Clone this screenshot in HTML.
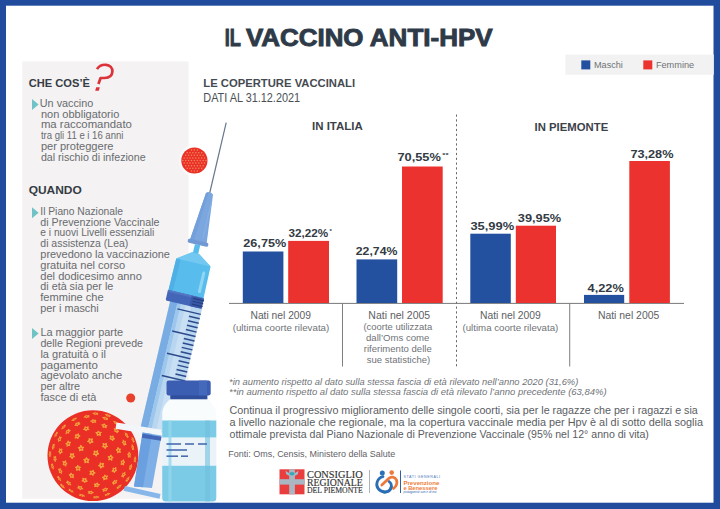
<!DOCTYPE html><html><head><meta charset="utf-8"><style>html,body{margin:0;padding:0;background:#fff;width:720px;height:509px;overflow:hidden}svg{display:block;font-family:"Liberation Sans",sans-serif}</style></head><body>
<svg width="720" height="509" viewBox="0 0 720 509">
<rect x="0" y="0" width="720" height="509" fill="#214c9e"/>
<rect x="6" y="5.7" width="707.5" height="497" fill="#ffffff"/>
<rect x="22.3" y="61.5" width="166.2" height="437.3" fill="#f4f2f2"/>
<rect x="565.3" y="54.6" width="148.5" height="20.2" fill="#f3f2f2"/>
<rect x="581.3" y="60.4" width="9" height="9" fill="#2450a0"/>
<rect x="643.3" y="60.4" width="9" height="9" fill="#ec322e"/>
<circle cx="130.7" cy="398" r="4.5" fill="#e8402a"/>
<circle cx="194.4" cy="160.5" r="15.5" fill="#ffffff" opacity="0.55"/>
<circle cx="194.4" cy="160.5" r="13.1" fill="#ea3126"/>
<circle cx="191.5" cy="150.1" r="0.75" fill="#f58a66"/>
<circle cx="194.4" cy="150.1" r="0.75" fill="#f58a66"/>
<circle cx="197.3" cy="150.1" r="0.75" fill="#f58a66"/>
<circle cx="187.2" cy="152.7" r="0.75" fill="#f58a66"/>
<circle cx="190.0" cy="152.7" r="0.75" fill="#f58a66"/>
<circle cx="192.9" cy="152.7" r="0.75" fill="#f58a66"/>
<circle cx="195.8" cy="152.7" r="0.75" fill="#f58a66"/>
<circle cx="198.8" cy="152.7" r="0.75" fill="#f58a66"/>
<circle cx="201.7" cy="152.7" r="0.75" fill="#f58a66"/>
<circle cx="185.7" cy="155.3" r="0.75" fill="#f58a66"/>
<circle cx="188.6" cy="155.3" r="0.75" fill="#f58a66"/>
<circle cx="191.5" cy="155.3" r="0.75" fill="#f58a66"/>
<circle cx="194.4" cy="155.3" r="0.75" fill="#f58a66"/>
<circle cx="197.3" cy="155.3" r="0.75" fill="#f58a66"/>
<circle cx="200.2" cy="155.3" r="0.75" fill="#f58a66"/>
<circle cx="203.1" cy="155.3" r="0.75" fill="#f58a66"/>
<circle cx="184.2" cy="157.9" r="0.75" fill="#f58a66"/>
<circle cx="187.2" cy="157.9" r="0.75" fill="#f58a66"/>
<circle cx="190.0" cy="157.9" r="0.75" fill="#f58a66"/>
<circle cx="192.9" cy="157.9" r="0.75" fill="#f58a66"/>
<circle cx="195.8" cy="157.9" r="0.75" fill="#f58a66"/>
<circle cx="198.8" cy="157.9" r="0.75" fill="#f58a66"/>
<circle cx="201.7" cy="157.9" r="0.75" fill="#f58a66"/>
<circle cx="204.5" cy="157.9" r="0.75" fill="#f58a66"/>
<circle cx="182.8" cy="160.5" r="0.75" fill="#f58a66"/>
<circle cx="185.7" cy="160.5" r="0.75" fill="#f58a66"/>
<circle cx="188.6" cy="160.5" r="0.75" fill="#f58a66"/>
<circle cx="191.5" cy="160.5" r="0.75" fill="#f58a66"/>
<circle cx="194.4" cy="160.5" r="0.75" fill="#f58a66"/>
<circle cx="197.3" cy="160.5" r="0.75" fill="#f58a66"/>
<circle cx="200.2" cy="160.5" r="0.75" fill="#f58a66"/>
<circle cx="203.1" cy="160.5" r="0.75" fill="#f58a66"/>
<circle cx="206.0" cy="160.5" r="0.75" fill="#f58a66"/>
<circle cx="184.2" cy="163.1" r="0.75" fill="#f58a66"/>
<circle cx="187.2" cy="163.1" r="0.75" fill="#f58a66"/>
<circle cx="190.0" cy="163.1" r="0.75" fill="#f58a66"/>
<circle cx="192.9" cy="163.1" r="0.75" fill="#f58a66"/>
<circle cx="195.8" cy="163.1" r="0.75" fill="#f58a66"/>
<circle cx="198.8" cy="163.1" r="0.75" fill="#f58a66"/>
<circle cx="201.7" cy="163.1" r="0.75" fill="#f58a66"/>
<circle cx="204.5" cy="163.1" r="0.75" fill="#f58a66"/>
<circle cx="185.7" cy="165.7" r="0.75" fill="#f58a66"/>
<circle cx="188.6" cy="165.7" r="0.75" fill="#f58a66"/>
<circle cx="191.5" cy="165.7" r="0.75" fill="#f58a66"/>
<circle cx="194.4" cy="165.7" r="0.75" fill="#f58a66"/>
<circle cx="197.3" cy="165.7" r="0.75" fill="#f58a66"/>
<circle cx="200.2" cy="165.7" r="0.75" fill="#f58a66"/>
<circle cx="203.1" cy="165.7" r="0.75" fill="#f58a66"/>
<circle cx="187.2" cy="168.3" r="0.75" fill="#f58a66"/>
<circle cx="190.0" cy="168.3" r="0.75" fill="#f58a66"/>
<circle cx="192.9" cy="168.3" r="0.75" fill="#f58a66"/>
<circle cx="195.8" cy="168.3" r="0.75" fill="#f58a66"/>
<circle cx="198.8" cy="168.3" r="0.75" fill="#f58a66"/>
<circle cx="201.7" cy="168.3" r="0.75" fill="#f58a66"/>
<circle cx="191.5" cy="170.9" r="0.75" fill="#f58a66"/>
<circle cx="194.4" cy="170.9" r="0.75" fill="#f58a66"/>
<circle cx="197.3" cy="170.9" r="0.75" fill="#f58a66"/>
<circle cx="92.9" cy="455.7" r="45.4" fill="#ea2f27"/>
<g transform="translate(96.2,497.2) rotate(85) scale(0.35,1.0)"><path d="M0,-2.9 L1.05,-1.05 L2.85,-0.85 L1.6,0.75 L1.85,2.6 L0,1.75 L-1.85,2.6 L-1.6,0.75 L-2.85,-0.85 L-1.05,-1.05 Z" fill="#f2a63e" stroke="#f2a63e" stroke-width="0.9" stroke-linejoin="round"/><circle r="0.8" fill="#e9362a"/></g>
<g transform="translate(82.0,495.4) rotate(105) scale(0.35,1.0)"><path d="M0,-2.9 L1.05,-1.05 L2.85,-0.85 L1.6,0.75 L1.85,2.6 L0,1.75 L-1.85,2.6 L-1.6,0.75 L-2.85,-0.85 L-1.05,-1.05 Z" fill="#f2a63e" stroke="#f2a63e" stroke-width="0.9" stroke-linejoin="round"/><circle r="0.8" fill="#e9362a"/></g>
<g transform="translate(107.6,494.3) rotate(69) scale(0.35,1.0)"><path d="M0,-2.9 L1.05,-1.05 L2.85,-0.85 L1.6,0.75 L1.85,2.6 L0,1.75 L-1.85,2.6 L-1.6,0.75 L-2.85,-0.85 L-1.05,-1.05 Z" fill="#f2a63e" stroke="#f2a63e" stroke-width="0.9" stroke-linejoin="round"/><circle r="0.8" fill="#e9362a"/></g>
<g transform="translate(90.7,492.5) rotate(93) scale(0.53,1.0)"><path d="M0,-2.9 L1.05,-1.05 L2.85,-0.85 L1.6,0.75 L1.85,2.6 L0,1.75 L-1.85,2.6 L-1.6,0.75 L-2.85,-0.85 L-1.05,-1.05 Z" fill="#f2a63e" stroke="#f2a63e" stroke-width="0.9" stroke-linejoin="round"/><circle r="0.8" fill="#e9362a"/></g>
<g transform="translate(71.1,490.8) rotate(122) scale(0.35,1.0)"><path d="M0,-2.9 L1.05,-1.05 L2.85,-0.85 L1.6,0.75 L1.85,2.6 L0,1.75 L-1.85,2.6 L-1.6,0.75 L-2.85,-0.85 L-1.05,-1.05 Z" fill="#f2a63e" stroke="#f2a63e" stroke-width="0.9" stroke-linejoin="round"/><circle r="0.8" fill="#e9362a"/></g>
<g transform="translate(105.2,489.6) rotate(70) scale(0.56,1.0)"><path d="M0,-2.9 L1.05,-1.05 L2.85,-0.85 L1.6,0.75 L1.85,2.6 L0,1.75 L-1.85,2.6 L-1.6,0.75 L-2.85,-0.85 L-1.05,-1.05 Z" fill="#f2a63e" stroke="#f2a63e" stroke-width="0.9" stroke-linejoin="round"/><circle r="0.8" fill="#e9362a"/></g>
<g transform="translate(80.3,487.9) rotate(111) scale(0.61,1.0)"><path d="M0,-2.9 L1.05,-1.05 L2.85,-0.85 L1.6,0.75 L1.85,2.6 L0,1.75 L-1.85,2.6 L-1.6,0.75 L-2.85,-0.85 L-1.05,-1.05 Z" fill="#f2a63e" stroke="#f2a63e" stroke-width="0.9" stroke-linejoin="round"/><circle r="0.8" fill="#e9362a"/></g>
<g transform="translate(119.1,486.7) rotate(50) scale(0.36,1.0)"><path d="M0,-2.9 L1.05,-1.05 L2.85,-0.85 L1.6,0.75 L1.85,2.6 L0,1.75 L-1.85,2.6 L-1.6,0.75 L-2.85,-0.85 L-1.05,-1.05 Z" fill="#f2a63e" stroke="#f2a63e" stroke-width="0.9" stroke-linejoin="round"/><circle r="0.8" fill="#e9362a"/></g>
<g transform="translate(62.5,486.1) rotate(135) scale(0.35,1.0)"><path d="M0,-2.9 L1.05,-1.05 L2.85,-0.85 L1.6,0.75 L1.85,2.6 L0,1.75 L-1.85,2.6 L-1.6,0.75 L-2.85,-0.85 L-1.05,-1.05 Z" fill="#f2a63e" stroke="#f2a63e" stroke-width="0.9" stroke-linejoin="round"/><circle r="0.8" fill="#e9362a"/></g>
<g transform="translate(96.8,485.0) rotate(82) scale(0.73,1.0)"><path d="M0,-2.9 L1.05,-1.05 L2.85,-0.85 L1.6,0.75 L1.85,2.6 L0,1.75 L-1.85,2.6 L-1.6,0.75 L-2.85,-0.85 L-1.05,-1.05 Z" fill="#f2a63e" stroke="#f2a63e" stroke-width="0.9" stroke-linejoin="round"/><circle r="0.8" fill="#e9362a"/></g>
<g transform="translate(68.8,483.2) rotate(131) scale(0.54,1.0)"><path d="M0,-2.9 L1.05,-1.05 L2.85,-0.85 L1.6,0.75 L1.85,2.6 L0,1.75 L-1.85,2.6 L-1.6,0.75 L-2.85,-0.85 L-1.05,-1.05 Z" fill="#f2a63e" stroke="#f2a63e" stroke-width="0.9" stroke-linejoin="round"/><circle r="0.8" fill="#e9362a"/></g>
<g transform="translate(114.8,482.1) rotate(50) scale(0.61,1.0)"><path d="M0,-2.9 L1.05,-1.05 L2.85,-0.85 L1.6,0.75 L1.85,2.6 L0,1.75 L-1.85,2.6 L-1.6,0.75 L-2.85,-0.85 L-1.05,-1.05 Z" fill="#f2a63e" stroke="#f2a63e" stroke-width="0.9" stroke-linejoin="round"/><circle r="0.8" fill="#e9362a"/></g>
<g transform="translate(84.7,480.3) rotate(108) scale(0.80,1.0)"><path d="M0,-2.9 L1.05,-1.05 L2.85,-0.85 L1.6,0.75 L1.85,2.6 L0,1.75 L-1.85,2.6 L-1.6,0.75 L-2.85,-0.85 L-1.05,-1.05 Z" fill="#f2a63e" stroke="#f2a63e" stroke-width="0.9" stroke-linejoin="round"/><circle r="0.8" fill="#e9362a"/></g>
<g transform="translate(127.7,479.2) rotate(34) scale(0.35,1.0)"><path d="M0,-2.9 L1.05,-1.05 L2.85,-0.85 L1.6,0.75 L1.85,2.6 L0,1.75 L-1.85,2.6 L-1.6,0.75 L-2.85,-0.85 L-1.05,-1.05 Z" fill="#f2a63e" stroke="#f2a63e" stroke-width="0.9" stroke-linejoin="round"/><circle r="0.8" fill="#e9362a"/></g>
<g transform="translate(59.2,478.6) rotate(146) scale(0.35,1.0)"><path d="M0,-2.9 L1.05,-1.05 L2.85,-0.85 L1.6,0.75 L1.85,2.6 L0,1.75 L-1.85,2.6 L-1.6,0.75 L-2.85,-0.85 L-1.05,-1.05 Z" fill="#f2a63e" stroke="#f2a63e" stroke-width="0.9" stroke-linejoin="round"/><circle r="0.8" fill="#e9362a"/></g>
<g transform="translate(105.3,477.4) rotate(60) scale(0.82,1.0)"><path d="M0,-2.9 L1.05,-1.05 L2.85,-0.85 L1.6,0.75 L1.85,2.6 L0,1.75 L-1.85,2.6 L-1.6,0.75 L-2.85,-0.85 L-1.05,-1.05 Z" fill="#f2a63e" stroke="#f2a63e" stroke-width="0.9" stroke-linejoin="round"/><circle r="0.8" fill="#e9362a"/></g>
<g transform="translate(71.7,475.7) rotate(137) scale(0.74,1.0)"><path d="M0,-2.9 L1.05,-1.05 L2.85,-0.85 L1.6,0.75 L1.85,2.6 L0,1.75 L-1.85,2.6 L-1.6,0.75 L-2.85,-0.85 L-1.05,-1.05 Z" fill="#f2a63e" stroke="#f2a63e" stroke-width="0.9" stroke-linejoin="round"/><circle r="0.8" fill="#e9362a"/></g>
<g transform="translate(123.7,474.6) rotate(31) scale(0.56,1.0)"><path d="M0,-2.9 L1.05,-1.05 L2.85,-0.85 L1.6,0.75 L1.85,2.6 L0,1.75 L-1.85,2.6 L-1.6,0.75 L-2.85,-0.85 L-1.05,-1.05 Z" fill="#f2a63e" stroke="#f2a63e" stroke-width="0.9" stroke-linejoin="round"/><circle r="0.8" fill="#e9362a"/></g>
<g transform="translate(92.4,472.8) rotate(92) scale(0.92,1.0)"><path d="M0,-2.9 L1.05,-1.05 L2.85,-0.85 L1.6,0.75 L1.85,2.6 L0,1.75 L-1.85,2.6 L-1.6,0.75 L-2.85,-0.85 L-1.05,-1.05 Z" fill="#f2a63e" stroke="#f2a63e" stroke-width="0.9" stroke-linejoin="round"/><circle r="0.8" fill="#e9362a"/></g>
<g transform="translate(60.3,471.1) rotate(155) scale(0.56,1.0)"><path d="M0,-2.9 L1.05,-1.05 L2.85,-0.85 L1.6,0.75 L1.85,2.6 L0,1.75 L-1.85,2.6 L-1.6,0.75 L-2.85,-0.85 L-1.05,-1.05 Z" fill="#f2a63e" stroke="#f2a63e" stroke-width="0.9" stroke-linejoin="round"/><circle r="0.8" fill="#e9362a"/></g>
<g transform="translate(114.5,469.9) rotate(33) scale(0.80,1.0)"><path d="M0,-2.9 L1.05,-1.05 L2.85,-0.85 L1.6,0.75 L1.85,2.6 L0,1.75 L-1.85,2.6 L-1.6,0.75 L-2.85,-0.85 L-1.05,-1.05 Z" fill="#f2a63e" stroke="#f2a63e" stroke-width="0.9" stroke-linejoin="round"/><circle r="0.8" fill="#e9362a"/></g>
<g transform="translate(78.1,468.2) rotate(140) scale(0.90,1.0)"><path d="M0,-2.9 L1.05,-1.05 L2.85,-0.85 L1.6,0.75 L1.85,2.6 L0,1.75 L-1.85,2.6 L-1.6,0.75 L-2.85,-0.85 L-1.05,-1.05 Z" fill="#f2a63e" stroke="#f2a63e" stroke-width="0.9" stroke-linejoin="round"/><circle r="0.8" fill="#e9362a"/></g>
<g transform="translate(130.7,467.0) rotate(17) scale(0.42,1.0)"><path d="M0,-2.9 L1.05,-1.05 L2.85,-0.85 L1.6,0.75 L1.85,2.6 L0,1.75 L-1.85,2.6 L-1.6,0.75 L-2.85,-0.85 L-1.05,-1.05 Z" fill="#f2a63e" stroke="#f2a63e" stroke-width="0.9" stroke-linejoin="round"/><circle r="0.8" fill="#e9362a"/></g>
<g transform="translate(52.5,466.4) rotate(165) scale(0.35,1.0)"><path d="M0,-2.9 L1.05,-1.05 L2.85,-0.85 L1.6,0.75 L1.85,2.6 L0,1.75 L-1.85,2.6 L-1.6,0.75 L-2.85,-0.85 L-1.05,-1.05 Z" fill="#f2a63e" stroke="#f2a63e" stroke-width="0.9" stroke-linejoin="round"/><circle r="0.8" fill="#e9362a"/></g>
<g transform="translate(101.5,465.3) rotate(48) scale(0.96,1.0)"><path d="M0,-2.9 L1.05,-1.05 L2.85,-0.85 L1.6,0.75 L1.85,2.6 L0,1.75 L-1.85,2.6 L-1.6,0.75 L-2.85,-0.85 L-1.05,-1.05 Z" fill="#f2a63e" stroke="#f2a63e" stroke-width="0.9" stroke-linejoin="round"/><circle r="0.8" fill="#e9362a"/></g>
<g transform="translate(64.9,463.5) rotate(164) scale(0.74,1.0)"><path d="M0,-2.9 L1.05,-1.05 L2.85,-0.85 L1.6,0.75 L1.85,2.6 L0,1.75 L-1.85,2.6 L-1.6,0.75 L-2.85,-0.85 L-1.05,-1.05 Z" fill="#f2a63e" stroke="#f2a63e" stroke-width="0.9" stroke-linejoin="round"/><circle r="0.8" fill="#e9362a"/></g>
<g transform="translate(122.8,462.4) rotate(13) scale(0.71,1.0)"><path d="M0,-2.9 L1.05,-1.05 L2.85,-0.85 L1.6,0.75 L1.85,2.6 L0,1.75 L-1.85,2.6 L-1.6,0.75 L-2.85,-0.85 L-1.05,-1.05 Z" fill="#f2a63e" stroke="#f2a63e" stroke-width="0.9" stroke-linejoin="round"/><circle r="0.8" fill="#e9362a"/></g>
<g transform="translate(86.6,460.6) rotate(142) scale(0.98,1.0)"><path d="M0,-2.9 L1.05,-1.05 L2.85,-0.85 L1.6,0.75 L1.85,2.6 L0,1.75 L-1.85,2.6 L-1.6,0.75 L-2.85,-0.85 L-1.05,-1.05 Z" fill="#f2a63e" stroke="#f2a63e" stroke-width="0.9" stroke-linejoin="round"/><circle r="0.8" fill="#e9362a"/></g>
<g transform="translate(135.0,459.5) rotate(5) scale(0.35,1.0)"><path d="M0,-2.9 L1.05,-1.05 L2.85,-0.85 L1.6,0.75 L1.85,2.6 L0,1.75 L-1.85,2.6 L-1.6,0.75 L-2.85,-0.85 L-1.05,-1.05 Z" fill="#f2a63e" stroke="#f2a63e" stroke-width="0.9" stroke-linejoin="round"/><circle r="0.8" fill="#e9362a"/></g>
<g transform="translate(55.0,458.9) rotate(175) scale(0.48,1.0)"><path d="M0,-2.9 L1.05,-1.05 L2.85,-0.85 L1.6,0.75 L1.85,2.6 L0,1.75 L-1.85,2.6 L-1.6,0.75 L-2.85,-0.85 L-1.05,-1.05 Z" fill="#f2a63e" stroke="#f2a63e" stroke-width="0.9" stroke-linejoin="round"/><circle r="0.8" fill="#e9362a"/></g>
<g transform="translate(110.6,457.7) rotate(7) scale(0.91,1.0)"><path d="M0,-2.9 L1.05,-1.05 L2.85,-0.85 L1.6,0.75 L1.85,2.6 L0,1.75 L-1.85,2.6 L-1.6,0.75 L-2.85,-0.85 L-1.05,-1.05 Z" fill="#f2a63e" stroke="#f2a63e" stroke-width="0.9" stroke-linejoin="round"/><circle r="0.8" fill="#e9362a"/></g>
<g transform="translate(72.1,456.0) rotate(179) scale(0.88,1.0)"><path d="M0,-2.9 L1.05,-1.05 L2.85,-0.85 L1.6,0.75 L1.85,2.6 L0,1.75 L-1.85,2.6 L-1.6,0.75 L-2.85,-0.85 L-1.05,-1.05 Z" fill="#f2a63e" stroke="#f2a63e" stroke-width="0.9" stroke-linejoin="round"/><circle r="0.8" fill="#e9362a"/></g>
<g transform="translate(129.2,454.8) rotate(-1) scale(0.55,1.0)"><path d="M0,-2.9 L1.05,-1.05 L2.85,-0.85 L1.6,0.75 L1.85,2.6 L0,1.75 L-1.85,2.6 L-1.6,0.75 L-2.85,-0.85 L-1.05,-1.05 Z" fill="#f2a63e" stroke="#f2a63e" stroke-width="0.9" stroke-linejoin="round"/><circle r="0.8" fill="#e9362a"/></g>
<g transform="translate(50.0,454.2) rotate(-178) scale(0.35,1.0)"><path d="M0,-2.9 L1.05,-1.05 L2.85,-0.85 L1.6,0.75 L1.85,2.6 L0,1.75 L-1.85,2.6 L-1.6,0.75 L-2.85,-0.85 L-1.05,-1.05 Z" fill="#f2a63e" stroke="#f2a63e" stroke-width="0.9" stroke-linejoin="round"/><circle r="0.8" fill="#e9362a"/></g>
<g transform="translate(95.9,453.1) rotate(-41) scale(1.00,1.0)"><path d="M0,-2.9 L1.05,-1.05 L2.85,-0.85 L1.6,0.75 L1.85,2.6 L0,1.75 L-1.85,2.6 L-1.6,0.75 L-2.85,-0.85 L-1.05,-1.05 Z" fill="#f2a63e" stroke="#f2a63e" stroke-width="0.9" stroke-linejoin="round"/><circle r="0.8" fill="#e9362a"/></g>
<g transform="translate(60.5,451.3) rotate(-172) scale(0.66,1.0)"><path d="M0,-2.9 L1.05,-1.05 L2.85,-0.85 L1.6,0.75 L1.85,2.6 L0,1.75 L-1.85,2.6 L-1.6,0.75 L-2.85,-0.85 L-1.05,-1.05 Z" fill="#f2a63e" stroke="#f2a63e" stroke-width="0.9" stroke-linejoin="round"/><circle r="0.8" fill="#e9362a"/></g>
<g transform="translate(118.5,450.2) rotate(-12) scale(0.80,1.0)"><path d="M0,-2.9 L1.05,-1.05 L2.85,-0.85 L1.6,0.75 L1.85,2.6 L0,1.75 L-1.85,2.6 L-1.6,0.75 L-2.85,-0.85 L-1.05,-1.05 Z" fill="#f2a63e" stroke="#f2a63e" stroke-width="0.9" stroke-linejoin="round"/><circle r="0.8" fill="#e9362a"/></g>
<g transform="translate(81.0,448.4) rotate(-149) scale(0.95,1.0)"><path d="M0,-2.9 L1.05,-1.05 L2.85,-0.85 L1.6,0.75 L1.85,2.6 L0,1.75 L-1.85,2.6 L-1.6,0.75 L-2.85,-0.85 L-1.05,-1.05 Z" fill="#f2a63e" stroke="#f2a63e" stroke-width="0.9" stroke-linejoin="round"/><circle r="0.8" fill="#e9362a"/></g>
<g transform="translate(132.7,447.3) rotate(-12) scale(0.35,1.0)"><path d="M0,-2.9 L1.05,-1.05 L2.85,-0.85 L1.6,0.75 L1.85,2.6 L0,1.75 L-1.85,2.6 L-1.6,0.75 L-2.85,-0.85 L-1.05,-1.05 Z" fill="#f2a63e" stroke="#f2a63e" stroke-width="0.9" stroke-linejoin="round"/><circle r="0.8" fill="#e9362a"/></g>
<g transform="translate(53.3,446.7) rotate(-167) scale(0.36,1.0)"><path d="M0,-2.9 L1.05,-1.05 L2.85,-0.85 L1.6,0.75 L1.85,2.6 L0,1.75 L-1.85,2.6 L-1.6,0.75 L-2.85,-0.85 L-1.05,-1.05 Z" fill="#f2a63e" stroke="#f2a63e" stroke-width="0.9" stroke-linejoin="round"/><circle r="0.8" fill="#e9362a"/></g>
<g transform="translate(104.8,445.6) rotate(-40) scale(0.93,1.0)"><path d="M0,-2.9 L1.05,-1.05 L2.85,-0.85 L1.6,0.75 L1.85,2.6 L0,1.75 L-1.85,2.6 L-1.6,0.75 L-2.85,-0.85 L-1.05,-1.05 Z" fill="#f2a63e" stroke="#f2a63e" stroke-width="0.9" stroke-linejoin="round"/><circle r="0.8" fill="#e9362a"/></g>
<g transform="translate(68.2,443.8) rotate(-154) scale(0.78,1.0)"><path d="M0,-2.9 L1.05,-1.05 L2.85,-0.85 L1.6,0.75 L1.85,2.6 L0,1.75 L-1.85,2.6 L-1.6,0.75 L-2.85,-0.85 L-1.05,-1.05 Z" fill="#f2a63e" stroke="#f2a63e" stroke-width="0.9" stroke-linejoin="round"/><circle r="0.8" fill="#e9362a"/></g>
<g transform="translate(124.1,442.6) rotate(-23) scale(0.63,1.0)"><path d="M0,-2.9 L1.05,-1.05 L2.85,-0.85 L1.6,0.75 L1.85,2.6 L0,1.75 L-1.85,2.6 L-1.6,0.75 L-2.85,-0.85 L-1.05,-1.05 Z" fill="#f2a63e" stroke="#f2a63e" stroke-width="0.9" stroke-linejoin="round"/><circle r="0.8" fill="#e9362a"/></g>
<g transform="translate(90.3,440.9) rotate(-100) scale(0.94,1.0)"><path d="M0,-2.9 L1.05,-1.05 L2.85,-0.85 L1.6,0.75 L1.85,2.6 L0,1.75 L-1.85,2.6 L-1.6,0.75 L-2.85,-0.85 L-1.05,-1.05 Z" fill="#f2a63e" stroke="#f2a63e" stroke-width="0.9" stroke-linejoin="round"/><circle r="0.8" fill="#e9362a"/></g>
<g transform="translate(132.9,439.8) rotate(-22) scale(0.35,1.0)"><path d="M0,-2.9 L1.05,-1.05 L2.85,-0.85 L1.6,0.75 L1.85,2.6 L0,1.75 L-1.85,2.6 L-1.6,0.75 L-2.85,-0.85 L-1.05,-1.05 Z" fill="#f2a63e" stroke="#f2a63e" stroke-width="0.9" stroke-linejoin="round"/><circle r="0.8" fill="#e9362a"/></g>
<g transform="translate(59.5,439.2) rotate(-154) scale(0.51,1.0)"><path d="M0,-2.9 L1.05,-1.05 L2.85,-0.85 L1.6,0.75 L1.85,2.6 L0,1.75 L-1.85,2.6 L-1.6,0.75 L-2.85,-0.85 L-1.05,-1.05 Z" fill="#f2a63e" stroke="#f2a63e" stroke-width="0.9" stroke-linejoin="round"/><circle r="0.8" fill="#e9362a"/></g>
<g transform="translate(112.0,438.0) rotate(-43) scale(0.80,1.0)"><path d="M0,-2.9 L1.05,-1.05 L2.85,-0.85 L1.6,0.75 L1.85,2.6 L0,1.75 L-1.85,2.6 L-1.6,0.75 L-2.85,-0.85 L-1.05,-1.05 Z" fill="#f2a63e" stroke="#f2a63e" stroke-width="0.9" stroke-linejoin="round"/><circle r="0.8" fill="#e9362a"/></g>
<g transform="translate(77.2,436.3) rotate(-129) scale(0.82,1.0)"><path d="M0,-2.9 L1.05,-1.05 L2.85,-0.85 L1.6,0.75 L1.85,2.6 L0,1.75 L-1.85,2.6 L-1.6,0.75 L-2.85,-0.85 L-1.05,-1.05 Z" fill="#f2a63e" stroke="#f2a63e" stroke-width="0.9" stroke-linejoin="round"/><circle r="0.8" fill="#e9362a"/></g>
<g transform="translate(126.5,435.1) rotate(-32) scale(0.42,1.0)"><path d="M0,-2.9 L1.05,-1.05 L2.85,-0.85 L1.6,0.75 L1.85,2.6 L0,1.75 L-1.85,2.6 L-1.6,0.75 L-2.85,-0.85 L-1.05,-1.05 Z" fill="#f2a63e" stroke="#f2a63e" stroke-width="0.9" stroke-linejoin="round"/><circle r="0.8" fill="#e9362a"/></g>
<g transform="translate(56.0,434.5) rotate(-150) scale(0.35,1.0)"><path d="M0,-2.9 L1.05,-1.05 L2.85,-0.85 L1.6,0.75 L1.85,2.6 L0,1.75 L-1.85,2.6 L-1.6,0.75 L-2.85,-0.85 L-1.05,-1.05 Z" fill="#f2a63e" stroke="#f2a63e" stroke-width="0.9" stroke-linejoin="round"/><circle r="0.8" fill="#e9362a"/></g>
<g transform="translate(98.5,433.4) rotate(-76) scale(0.85,1.0)"><path d="M0,-2.9 L1.05,-1.05 L2.85,-0.85 L1.6,0.75 L1.85,2.6 L0,1.75 L-1.85,2.6 L-1.6,0.75 L-2.85,-0.85 L-1.05,-1.05 Z" fill="#f2a63e" stroke="#f2a63e" stroke-width="0.9" stroke-linejoin="round"/><circle r="0.8" fill="#e9362a"/></g>
<g transform="translate(67.8,431.6) rotate(-136) scale(0.60,1.0)"><path d="M0,-2.9 L1.05,-1.05 L2.85,-0.85 L1.6,0.75 L1.85,2.6 L0,1.75 L-1.85,2.6 L-1.6,0.75 L-2.85,-0.85 L-1.05,-1.05 Z" fill="#f2a63e" stroke="#f2a63e" stroke-width="0.9" stroke-linejoin="round"/><circle r="0.8" fill="#e9362a"/></g>
<g transform="translate(116.2,430.5) rotate(-47) scale(0.61,1.0)"><path d="M0,-2.9 L1.05,-1.05 L2.85,-0.85 L1.6,0.75 L1.85,2.6 L0,1.75 L-1.85,2.6 L-1.6,0.75 L-2.85,-0.85 L-1.05,-1.05 Z" fill="#f2a63e" stroke="#f2a63e" stroke-width="0.9" stroke-linejoin="round"/><circle r="0.8" fill="#e9362a"/></g>
<g transform="translate(86.2,428.7) rotate(-104) scale(0.77,1.0)"><path d="M0,-2.9 L1.05,-1.05 L2.85,-0.85 L1.6,0.75 L1.85,2.6 L0,1.75 L-1.85,2.6 L-1.6,0.75 L-2.85,-0.85 L-1.05,-1.05 Z" fill="#f2a63e" stroke="#f2a63e" stroke-width="0.9" stroke-linejoin="round"/><circle r="0.8" fill="#e9362a"/></g>
<g transform="translate(124.7,427.6) rotate(-41) scale(0.35,1.0)"><path d="M0,-2.9 L1.05,-1.05 L2.85,-0.85 L1.6,0.75 L1.85,2.6 L0,1.75 L-1.85,2.6 L-1.6,0.75 L-2.85,-0.85 L-1.05,-1.05 Z" fill="#f2a63e" stroke="#f2a63e" stroke-width="0.9" stroke-linejoin="round"/><circle r="0.8" fill="#e9362a"/></g>
<g transform="translate(63.6,427.0) rotate(-136) scale(0.35,1.0)"><path d="M0,-2.9 L1.05,-1.05 L2.85,-0.85 L1.6,0.75 L1.85,2.6 L0,1.75 L-1.85,2.6 L-1.6,0.75 L-2.85,-0.85 L-1.05,-1.05 Z" fill="#f2a63e" stroke="#f2a63e" stroke-width="0.9" stroke-linejoin="round"/><circle r="0.8" fill="#e9362a"/></g>
<g transform="translate(104.3,425.8) rotate(-69) scale(0.68,1.0)"><path d="M0,-2.9 L1.05,-1.05 L2.85,-0.85 L1.6,0.75 L1.85,2.6 L0,1.75 L-1.85,2.6 L-1.6,0.75 L-2.85,-0.85 L-1.05,-1.05 Z" fill="#f2a63e" stroke="#f2a63e" stroke-width="0.9" stroke-linejoin="round"/><circle r="0.8" fill="#e9362a"/></g>
<g transform="translate(77.3,424.1) rotate(-116) scale(0.59,1.0)"><path d="M0,-2.9 L1.05,-1.05 L2.85,-0.85 L1.6,0.75 L1.85,2.6 L0,1.75 L-1.85,2.6 L-1.6,0.75 L-2.85,-0.85 L-1.05,-1.05 Z" fill="#f2a63e" stroke="#f2a63e" stroke-width="0.9" stroke-linejoin="round"/><circle r="0.8" fill="#e9362a"/></g>
<g transform="translate(115.9,422.9) rotate(-55) scale(0.39,1.0)"><path d="M0,-2.9 L1.05,-1.05 L2.85,-0.85 L1.6,0.75 L1.85,2.6 L0,1.75 L-1.85,2.6 L-1.6,0.75 L-2.85,-0.85 L-1.05,-1.05 Z" fill="#f2a63e" stroke="#f2a63e" stroke-width="0.9" stroke-linejoin="round"/><circle r="0.8" fill="#e9362a"/></g>
<g transform="translate(93.4,421.2) rotate(-89) scale(0.61,1.0)"><path d="M0,-2.9 L1.05,-1.05 L2.85,-0.85 L1.6,0.75 L1.85,2.6 L0,1.75 L-1.85,2.6 L-1.6,0.75 L-2.85,-0.85 L-1.05,-1.05 Z" fill="#f2a63e" stroke="#f2a63e" stroke-width="0.9" stroke-linejoin="round"/><circle r="0.8" fill="#e9362a"/></g>
<g transform="translate(74.1,419.4) rotate(-117) scale(0.35,1.0)"><path d="M0,-2.9 L1.05,-1.05 L2.85,-0.85 L1.6,0.75 L1.85,2.6 L0,1.75 L-1.85,2.6 L-1.6,0.75 L-2.85,-0.85 L-1.05,-1.05 Z" fill="#f2a63e" stroke="#f2a63e" stroke-width="0.9" stroke-linejoin="round"/><circle r="0.8" fill="#e9362a"/></g>
<g transform="translate(105.2,418.3) rotate(-72) scale(0.43,1.0)"><path d="M0,-2.9 L1.05,-1.05 L2.85,-0.85 L1.6,0.75 L1.85,2.6 L0,1.75 L-1.85,2.6 L-1.6,0.75 L-2.85,-0.85 L-1.05,-1.05 Z" fill="#f2a63e" stroke="#f2a63e" stroke-width="0.9" stroke-linejoin="round"/><circle r="0.8" fill="#e9362a"/></g>
<g transform="translate(86.7,416.6) rotate(-99) scale(0.41,1.0)"><path d="M0,-2.9 L1.05,-1.05 L2.85,-0.85 L1.6,0.75 L1.85,2.6 L0,1.75 L-1.85,2.6 L-1.6,0.75 L-2.85,-0.85 L-1.05,-1.05 Z" fill="#f2a63e" stroke="#f2a63e" stroke-width="0.9" stroke-linejoin="round"/><circle r="0.8" fill="#e9362a"/></g>
<g transform="translate(107.8,415.4) rotate(-70) scale(0.35,1.0)"><path d="M0,-2.9 L1.05,-1.05 L2.85,-0.85 L1.6,0.75 L1.85,2.6 L0,1.75 L-1.85,2.6 L-1.6,0.75 L-2.85,-0.85 L-1.05,-1.05 Z" fill="#f2a63e" stroke="#f2a63e" stroke-width="0.9" stroke-linejoin="round"/><circle r="0.8" fill="#e9362a"/></g>
<g transform="translate(95.5,413.6) rotate(-86) scale(0.35,1.0)"><path d="M0,-2.9 L1.05,-1.05 L2.85,-0.85 L1.6,0.75 L1.85,2.6 L0,1.75 L-1.85,2.6 L-1.6,0.75 L-2.85,-0.85 L-1.05,-1.05 Z" fill="#f2a63e" stroke="#f2a63e" stroke-width="0.9" stroke-linejoin="round"/><circle r="0.8" fill="#e9362a"/></g>
<g transform="translate(226.2,122.7) rotate(13.2)">
<rect x="-0.6" y="0" width="1.2" height="74" fill="#66798c"/>
<path d="M-3.6,73 Q0,70 3.6,73 L8.5,122 L-8.5,122 Z" fill="#7ba6de"/>
<path d="M-3.6,73 Q-2,71.5 -1.2,71.4 L-4.5,122 L-8.5,122 Z" fill="#739fda"/>
<rect x="3" y="80" width="1.4" height="38" fill="#8ab3e6" opacity="0.7"/>
<rect x="-10.5" y="121.3" width="21" height="4" rx="1.6" fill="#6f98d4"/>
<rect x="-2.7" y="125.3" width="5.4" height="10" fill="#56bcec"/>
<path d="M-3.5,134 L3.5,134 L17.6,143.5 L18,176.5 L-18,176.5 L-17.6,143.5 Z" fill="#58bdec"/>
<path d="M-17.6,143.5 L-13,143.5 L-13.5,176.5 L-18,176.5 Z" fill="#4fb0e6"/>
<path d="M-17.6,143.5 L17.6,143.5 L3.5,134 L-3.5,134 Z" fill="#72c8f0"/>
<rect x="11" y="150" width="3" height="22" rx="1.5" fill="#8fd6f5"/>
<rect x="-13.8" y="186" width="32.8" height="130" fill="#b8d6f0"/>
<rect x="-13.8" y="186" width="7.5" height="130" fill="#78ace2"/>
<rect x="-6.3" y="186" width="3.5" height="130" fill="#9cc6ec"/>
<rect x="2" y="186" width="6" height="130" fill="#c9e0f4"/>
<rect x="-18.5" y="176" width="37" height="10.8" rx="1.5" fill="#4466b9"/>
<rect x="-18.5" y="176" width="37" height="2" rx="1" fill="#5275c4"/>
<rect x="6" y="176.5" width="12.5" height="10.3" fill="#3a59a8"/>
<rect x="-5" y="191.65" width="24" height="1.5" fill="#2d4a8c"/>
<rect x="8" y="196.21" width="11" height="1.5" fill="#2d4a8c"/>
<rect x="8" y="200.77" width="11" height="1.5" fill="#2d4a8c"/>
<rect x="8" y="205.33" width="11" height="1.5" fill="#2d4a8c"/>
<rect x="8" y="209.89" width="11" height="1.5" fill="#2d4a8c"/>
<rect x="-5" y="214.45" width="24" height="1.5" fill="#2d4a8c"/>
<rect x="8" y="219.01" width="11" height="1.5" fill="#2d4a8c"/>
<rect x="8" y="223.57" width="11" height="1.5" fill="#2d4a8c"/>
<rect x="8" y="228.13" width="11" height="1.5" fill="#2d4a8c"/>
<rect x="8" y="232.69" width="11" height="1.5" fill="#2d4a8c"/>
<rect x="-5" y="237.25" width="24" height="1.5" fill="#2d4a8c"/>
<rect x="8" y="241.81" width="11" height="1.5" fill="#2d4a8c"/>
<rect x="8" y="246.37" width="11" height="1.5" fill="#2d4a8c"/>
<rect x="8" y="250.93" width="11" height="1.5" fill="#2d4a8c"/>
<rect x="8" y="255.49" width="11" height="1.5" fill="#2d4a8c"/>
<rect x="-5" y="260.05" width="24" height="1.5" fill="#2d4a8c"/>
<rect x="8" y="177.90" width="11" height="1.2" fill="#263f80"/>
<rect x="8" y="180.90" width="11" height="1.2" fill="#263f80"/>
<rect x="8" y="183.90" width="11" height="1.2" fill="#263f80"/>
</g>
<path d="M116.5,422.5 L161.5,429.8 L160.5,436 L115.5,428.8 Z" fill="#f3f6f9"/>
<path d="M142.6,432.5 L161.5,435.5 L152,488 L134,486.5 Z" fill="#7eafe6"/>
<path d="M142.6,432.5 L152,434 L143,487.3 L134,486.5 Z" fill="#6a9fe0"/>
<path d="M142.6,433.8 L161.5,436.8 L160.8,440.8 L141.9,437.8 Z" fill="#4466b9"/>
<path d="M125,486 L160.5,494 L159.5,498.8 L123.5,490.8 Z" fill="#86b6ea"/>
<path d="M170.3,399 L207.4,399 C212,403 216.3,408 216.3,414 L216.3,498 Q216.3,501.5 212.8,501.5 L165.7,501.5 Q162.2,501.5 162.2,498 L162.2,414 C162.2,408 165.5,403 170.3,399 Z" fill="#f9fcfd"/>
<rect x="162.2" y="420.5" width="54.1" height="17.2" fill="#7ccbe6"/>
<rect x="162.2" y="437.6" width="54.1" height="28.1" fill="#eaf3f8"/>
<path d="M162.2,465.7 L216.3,465.7 L216.3,498 Q216.3,501.5 212.8,501.5 L165.7,501.5 Q162.2,501.5 162.2,498 Z" fill="#7ccbe6"/>
<rect x="168.5" y="420.5" width="3" height="81" fill="#93d6ec" opacity="0.8"/>
<rect x="205" y="420.5" width="5" height="81" fill="#6fc0de" opacity="0.6"/>
<rect x="166.5" y="443.2" width="14.5" height="1.6" fill="#4a6cb0"/>
<rect x="185" y="443.2" width="9" height="1.6" fill="#4a6cb0"/>
<rect x="198" y="443.2" width="9" height="1.6" fill="#4a6cb0"/>
<rect x="166.5" y="449.2" width="20.5" height="1.6" fill="#4a6cb0"/>
<rect x="166.5" y="455.4" width="11.5" height="1.6" fill="#4a6cb0"/>
<rect x="181" y="455.4" width="7" height="1.6" fill="#4a6cb0"/>
<rect x="170.3" y="394" width="37.1" height="5.3" fill="#2f4f9c"/>
<rect x="166.5" y="380.6" width="44.2" height="14.8" rx="2.2" fill="#3b5db2"/>
<rect x="199" y="380.6" width="8" height="14.8" fill="#4468ba"/>
<text x="224.7" y="45.6" font-size="23.9" font-weight="bold" fill="#2e3a48" textLength="16.2" lengthAdjust="spacingAndGlyphs" stroke="#2e3a48" stroke-width="0.9">IL</text>
<text x="246.0" y="45.6" font-size="23.9" font-weight="bold" fill="#2e3a48" textLength="117.5" lengthAdjust="spacingAndGlyphs" stroke="#2e3a48" stroke-width="0.9">VACCINO</text>
<text x="369.8" y="45.6" font-size="23.9" font-weight="bold" fill="#2e3a48" textLength="122.9" lengthAdjust="spacingAndGlyphs" stroke="#2e3a48" stroke-width="0.9">ANTI-HPV</text>
<text x="594.0" y="68.3" font-size="8.8" font-weight="normal" fill="#6e7276" textLength="28.9" lengthAdjust="spacingAndGlyphs">Maschi</text>
<text x="655.9" y="68.3" font-size="8.8" font-weight="normal" fill="#6e7276" textLength="38.3" lengthAdjust="spacingAndGlyphs">Femmine</text>
<text x="28.8" y="86.7" font-size="10.6" font-weight="bold" fill="#353c44" textLength="61.1" lengthAdjust="spacingAndGlyphs">CHE COS’È</text>
<text x="28.7" y="193.6" font-size="10.6" font-weight="bold" fill="#353c44" textLength="53.1" lengthAdjust="spacingAndGlyphs">QUANDO</text>
<path d="M97,69.2 C99,65.6 102.5,64.6 106,64.8 C110,65 112.5,68 112.4,71.5 C112.2,75.5 109,77.8 104.5,78 L100.6,78 L98.4,84" fill="none" stroke="#dc323a" stroke-width="2.7" stroke-linejoin="round"/>
<path d="M96.2,87.3 L99.8,87.3 L98.8,90.8 L95.2,90.8 Z" fill="#dc323a"/>
<path d="M32,99 L38.6,104.5 L32,110 Z" fill="#6fc3c6"/>
<path d="M32,207.2 L38.6,212.7 L32,218.2 Z" fill="#6fc3c6"/>
<path d="M32,328.1 L38.6,333.6 L32,339.1 Z" fill="#6fc3c6"/>
<text x="39.8" y="106.8" font-size="10" font-weight="normal" fill="#686b6f" textLength="53.5" lengthAdjust="spacingAndGlyphs">Un vaccino</text>
<text x="40.9" y="117.6" font-size="10" font-weight="normal" fill="#686b6f" textLength="78.4" lengthAdjust="spacingAndGlyphs">non obbligatorio</text>
<text x="40.9" y="128.4" font-size="10" font-weight="normal" fill="#686b6f" textLength="91.0" lengthAdjust="spacingAndGlyphs">ma raccomandato</text>
<text x="40.9" y="139.2" font-size="10" font-weight="normal" fill="#686b6f" textLength="82.5" lengthAdjust="spacingAndGlyphs">tra gli 11 e i 16 anni</text>
<text x="40.9" y="149.9" font-size="10" font-weight="normal" fill="#686b6f" textLength="72.6" lengthAdjust="spacingAndGlyphs">per proteggere</text>
<text x="40.9" y="160.5" font-size="10" font-weight="normal" fill="#686b6f" textLength="104.7" lengthAdjust="spacingAndGlyphs">dal rischio di infezione</text>
<text x="40.3" y="214.5" font-size="10" font-weight="normal" fill="#686b6f" textLength="82.7" lengthAdjust="spacingAndGlyphs">Il Piano Nazionale</text>
<text x="40.3" y="225.5" font-size="10" font-weight="normal" fill="#686b6f" textLength="119.2" lengthAdjust="spacingAndGlyphs">di Prevenzione Vaccinale</text>
<text x="40.3" y="236.0" font-size="10" font-weight="normal" fill="#686b6f" textLength="114.0" lengthAdjust="spacingAndGlyphs">e i nuovi Livelli essenziali</text>
<text x="40.3" y="246.8" font-size="10" font-weight="normal" fill="#686b6f" textLength="88.0" lengthAdjust="spacingAndGlyphs">di assistenza (Lea)</text>
<text x="40.3" y="257.9" font-size="10" font-weight="normal" fill="#686b6f" textLength="129.6" lengthAdjust="spacingAndGlyphs">prevedono la vaccinazione</text>
<text x="40.3" y="268.9" font-size="10" font-weight="normal" fill="#686b6f" textLength="84.8" lengthAdjust="spacingAndGlyphs">gratuita nel corso</text>
<text x="40.3" y="279.5" font-size="10" font-weight="normal" fill="#686b6f" textLength="101.5" lengthAdjust="spacingAndGlyphs">del dodicesimo anno</text>
<text x="40.3" y="290.4" font-size="10" font-weight="normal" fill="#686b6f" textLength="73.0" lengthAdjust="spacingAndGlyphs">di età sia per le</text>
<text x="40.3" y="301.2" font-size="10" font-weight="normal" fill="#686b6f" textLength="63.4" lengthAdjust="spacingAndGlyphs">femmine che</text>
<text x="40.3" y="312.1" font-size="10" font-weight="normal" fill="#686b6f" textLength="58.4" lengthAdjust="spacingAndGlyphs">per i maschi</text>
<text x="40.4" y="336.3" font-size="10" font-weight="normal" fill="#686b6f" textLength="82.7" lengthAdjust="spacingAndGlyphs">La maggior parte</text>
<text x="40.4" y="347.1" font-size="10" font-weight="normal" fill="#686b6f" textLength="102.6" lengthAdjust="spacingAndGlyphs">delle Regioni prevede</text>
<text x="40.4" y="357.9" font-size="10" font-weight="normal" fill="#686b6f" textLength="65.6" lengthAdjust="spacingAndGlyphs">la gratuità o il</text>
<text x="40.4" y="368.5" font-size="10" font-weight="normal" fill="#686b6f" textLength="57.4" lengthAdjust="spacingAndGlyphs">pagamento</text>
<text x="40.4" y="379.2" font-size="10" font-weight="normal" fill="#686b6f" textLength="81.8" lengthAdjust="spacingAndGlyphs">agevolato anche</text>
<text x="40.4" y="390.0" font-size="10" font-weight="normal" fill="#686b6f" textLength="39.7" lengthAdjust="spacingAndGlyphs">per altre</text>
<text x="40.4" y="400.9" font-size="10" font-weight="normal" fill="#686b6f" textLength="56.0" lengthAdjust="spacingAndGlyphs">fasce di età</text>
<text x="203.3" y="87.2" font-size="11.5" font-weight="bold" fill="#454a51" textLength="151.8" lengthAdjust="spacingAndGlyphs">LE COPERTURE VACCINALI</text>
<text x="203.3" y="101.9" font-size="12" font-weight="normal" fill="#4a4f55" textLength="96.8" lengthAdjust="spacingAndGlyphs">DATI AL 31.12.2021</text>
<text x="312.0" y="130.3" font-size="11.3" font-weight="bold" fill="#3c424a" textLength="50.8" lengthAdjust="spacingAndGlyphs">IN ITALIA</text>
<text x="534.6" y="131.0" font-size="11.3" font-weight="bold" fill="#3c424a" textLength="73.6" lengthAdjust="spacingAndGlyphs">IN PIEMONTE</text>
<line x1="456.5" y1="114.5" x2="456.5" y2="367" stroke="#6a6a6a" stroke-width="1" stroke-dasharray="2.2 2.6"/>
<rect x="229" y="302.9" width="455" height="1" fill="#77797c"/>
<rect x="342" y="303" width="1" height="63.5" fill="#7d7f82"/>
<rect x="569.2" y="303" width="1" height="63.5" fill="#7d7f82"/>
<rect x="242.8" y="251.5" width="40.6" height="51.5" fill="#2450a0"/>
<rect x="288.2" y="240.9" width="40.8" height="62.1" fill="#ec322e"/>
<rect x="356.5" y="259.4" width="40.7" height="43.6" fill="#2450a0"/>
<rect x="402" y="166.5" width="40.7" height="136.5" fill="#ec322e"/>
<rect x="470.3" y="233.7" width="40.5" height="69.3" fill="#2450a0"/>
<rect x="515.8" y="225.7" width="40.2" height="77.3" fill="#ec322e"/>
<rect x="584" y="294.9" width="40.2" height="8.1" fill="#2450a0"/>
<rect x="629.3" y="161" width="40.6" height="142.0" fill="#ec322e"/>
<text x="243.3" y="247.4" font-size="11.2" font-weight="bold" fill="#333b45" textLength="42.9" lengthAdjust="spacingAndGlyphs">26,75%</text>
<text x="288.4" y="236.8" font-size="11.2" font-weight="bold" fill="#333b45" textLength="39.7" lengthAdjust="spacingAndGlyphs">32,22%</text>
<text x="355.8" y="255.3" font-size="11.2" font-weight="bold" fill="#333b45" textLength="41.6" lengthAdjust="spacingAndGlyphs">22,74%</text>
<text x="397.4" y="161.0" font-size="11.2" font-weight="bold" fill="#333b45" textLength="43.5" lengthAdjust="spacingAndGlyphs">70,55%</text>
<text x="470.4" y="229.9" font-size="11.2" font-weight="bold" fill="#333b45" textLength="43.8" lengthAdjust="spacingAndGlyphs">35,99%</text>
<text x="517.8" y="221.9" font-size="11.2" font-weight="bold" fill="#333b45" textLength="43.3" lengthAdjust="spacingAndGlyphs">39,95%</text>
<text x="630.4" y="157.5" font-size="11.2" font-weight="bold" fill="#333b45" textLength="43.1" lengthAdjust="spacingAndGlyphs">73,28%</text>
<text x="587.6" y="291.5" font-size="11.2" font-weight="bold" fill="#333b45" textLength="36.2" lengthAdjust="spacingAndGlyphs">4,22%</text>
<text x="329.5" y="232.5" font-size="6" font-weight="bold" fill="#333b45">*</text>
<text x="442.3" y="157.0" font-size="6" font-weight="bold" fill="#333b45" textLength="6.2" lengthAdjust="spacingAndGlyphs">**</text>
<text x="250.5" y="319.2" font-size="10" font-weight="normal" fill="#5d6064" textLength="60.5" lengthAdjust="spacingAndGlyphs">Nati nel 2009</text>
<text x="232.7" y="330.8" font-size="8.6" font-weight="normal" fill="#707377" textLength="96.6" lengthAdjust="spacingAndGlyphs">(ultima coorte rilevata)</text>
<text x="368.3" y="319.0" font-size="10" font-weight="normal" fill="#5d6064" textLength="61.9" lengthAdjust="spacingAndGlyphs">Nati nel 2005</text>
<text x="363.4" y="330.2" font-size="8.6" font-weight="normal" fill="#707377" textLength="68.8" lengthAdjust="spacingAndGlyphs">(coorte utilizzata</text>
<text x="366.0" y="340.9" font-size="8.6" font-weight="normal" fill="#707377" textLength="63.4" lengthAdjust="spacingAndGlyphs">dall’Oms come</text>
<text x="363.8" y="351.6" font-size="8.6" font-weight="normal" fill="#707377" textLength="67.9" lengthAdjust="spacingAndGlyphs">riferimento delle</text>
<text x="366.8" y="362.6" font-size="8.6" font-weight="normal" fill="#707377" textLength="63.4" lengthAdjust="spacingAndGlyphs">sue statistiche)</text>
<text x="480.0" y="319.2" font-size="10" font-weight="normal" fill="#5d6064" textLength="60.8" lengthAdjust="spacingAndGlyphs">Nati nel 2009</text>
<text x="462.5" y="330.8" font-size="8.6" font-weight="normal" fill="#707377" textLength="95.8" lengthAdjust="spacingAndGlyphs">(ultima coorte rilevata)</text>
<text x="597.9" y="319.0" font-size="10" font-weight="normal" fill="#5d6064" textLength="61.4" lengthAdjust="spacingAndGlyphs">Nati nel 2005</text>
<text x="229.0" y="384.7" font-size="9.2" font-weight="normal" fill="#707377" font-style="italic" textLength="349.3" lengthAdjust="spacingAndGlyphs">*in aumento rispetto al dato sulla stessa fascia di età rilevato nell’anno 2020 (31,6%)</text>
<text x="229.0" y="395.3" font-size="9.2" font-weight="normal" fill="#707377" font-style="italic" textLength="377.7" lengthAdjust="spacingAndGlyphs">**in aumento rispetto al dato sulla stessa fascia di età rilevato l’anno precedente (63,84%)</text>
<text x="229.5" y="413.8" font-size="10.3" font-weight="normal" fill="#5a5d62" textLength="468.3" lengthAdjust="spacingAndGlyphs">Continua il progressivo miglioramento delle singole coorti, sia per le ragazze che per i ragazzi e sia</text>
<text x="229.5" y="425.6" font-size="10.3" font-weight="normal" fill="#5a5d62" textLength="473.5" lengthAdjust="spacingAndGlyphs">a livello nazionale che regionale, ma la copertura vaccinale media per Hpv è al di sotto della soglia</text>
<text x="229.5" y="437.9" font-size="10.3" font-weight="normal" fill="#5a5d62" textLength="419.4" lengthAdjust="spacingAndGlyphs">ottimale prevista dal Piano Nazionale di Prevenzione Vaccinale (95% nel 12° anno di vita)</text>
<text x="228.3" y="457.2" font-size="9" font-weight="normal" fill="#5f6266" textLength="167.0" lengthAdjust="spacingAndGlyphs">Fonti: Oms, Censis, Ministero della Salute</text>
<rect x="279.5" y="469.3" width="25" height="25" fill="#ea3e3e"/>
<rect x="289.2" y="469.3" width="5.7" height="25" fill="#aab6c2"/>
<rect x="279.5" y="479.2" width="25" height="5.4" fill="#aab6c2"/>
<path d="M285.5,470.8 Q292,476.5 298.5,470.8 L297.8,474.2 Q292,478.5 286.2,474.2 Z" fill="#9fbcc8"/>
<ellipse cx="292" cy="473.8" rx="2.6" ry="1.8" fill="#3aa6b8"/>
<text x="307" y="477.6" font-family="Liberation Serif" font-size="10.3" fill="#333333" stroke="#333333" stroke-width="0.15" textLength="55.7" lengthAdjust="spacingAndGlyphs">CONSIGLIO</text>
<text x="307" y="485.9" font-family="Liberation Serif" font-size="10.3" fill="#333333" stroke="#333333" stroke-width="0.15" textLength="55.7" lengthAdjust="spacingAndGlyphs">REGIONALE</text>
<text x="307" y="493.2" font-family="Liberation Serif" font-size="8.6" fill="#333333" stroke="#333333" stroke-width="0.15" textLength="55.7" lengthAdjust="spacingAndGlyphs">DEL PIEMONTE</text>
<rect x="369" y="470" width="0.8" height="23" fill="#9aa0a6"/>
<circle cx="382.3" cy="472.9" r="2.5" fill="#2a72b8"/>
<circle cx="391.7" cy="472.6" r="2.3" fill="#ec7a3c"/>
<path d="M383,476.6 C377,478 375,485 378.5,489 C382,493 389,493 391,488.5 C392,485.5 391,483 389,481.5" fill="none" stroke="#2a6fb6" stroke-width="2.8" stroke-linecap="round"/>
<path d="M381.8,485 L389,478.3 C391,476.3 395,476.8 396.5,480 C397.5,483 396,486.5 393.5,488.5" fill="none" stroke="#ec7a3c" stroke-width="2.8" stroke-linecap="round"/>
<path d="M391.2,486.8 C390.8,489.5 388,492 384.5,492.3" fill="none" stroke="#2a6fb6" stroke-width="2.8" stroke-linecap="round"/>
<rect x="400" y="470.5" width="1" height="22.5" fill="#2f5fa8"/>
<text x="403.4" y="478" font-size="3.3" fill="#4a78b8" letter-spacing="0.5" textLength="37.2" lengthAdjust="spacingAndGlyphs">STATI GENERALI</text>
<text x="403.4" y="484.6" font-size="5.6" font-weight="bold" fill="#ee7d3a" textLength="36" lengthAdjust="spacingAndGlyphs">Prevenzione</text>
<text x="403.4" y="489.6" font-size="5.6" font-weight="bold" fill="#ee7d3a" textLength="34" lengthAdjust="spacingAndGlyphs">e Benessere</text>
<text x="403.4" y="493" font-size="2.8" fill="#2f5fa8" font-style="italic" textLength="33" lengthAdjust="spacingAndGlyphs">protagonisti con e di noi</text>
</svg></body></html>
